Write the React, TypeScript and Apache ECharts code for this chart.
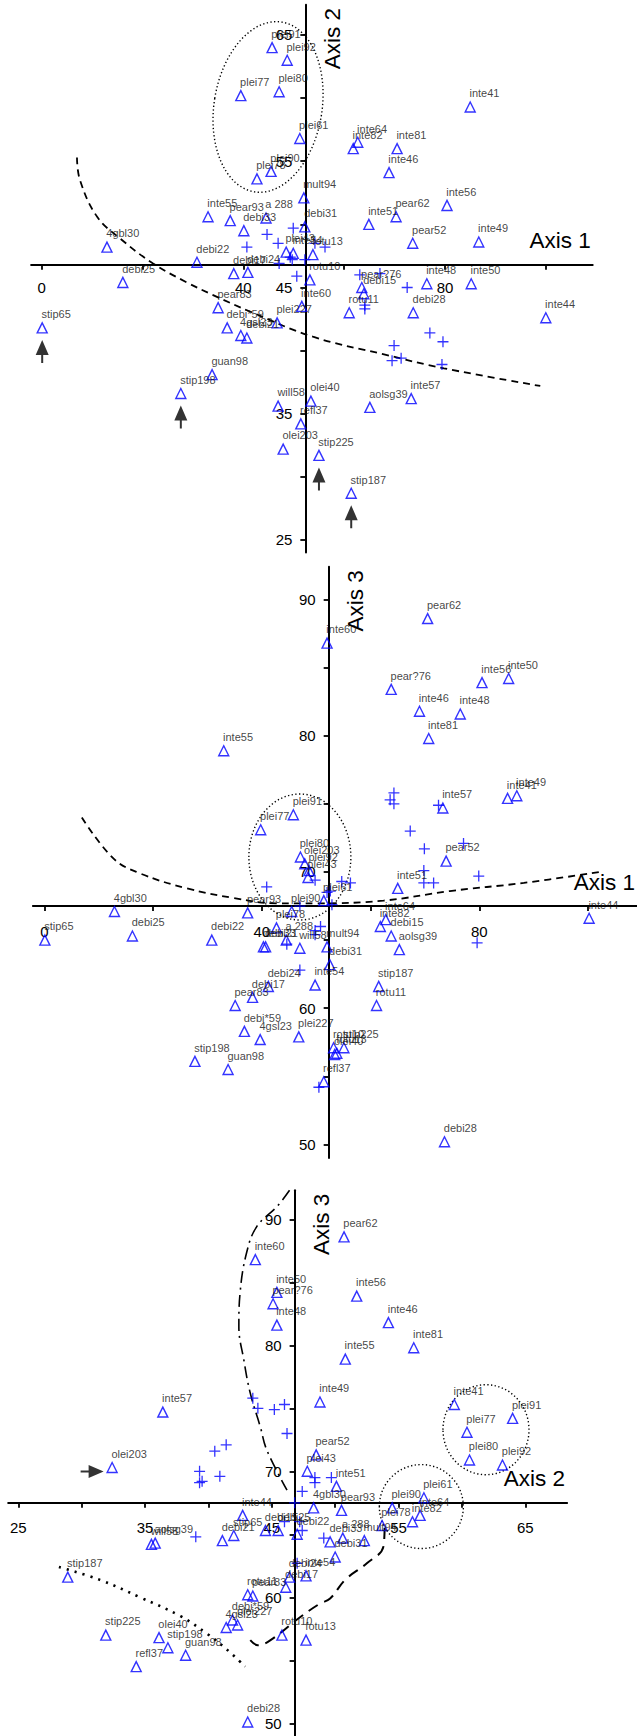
import React, { useEffect, useRef } from "react";
import * as echarts from "echarts";

const FONT = "'Liberation Sans', Arial, Helvetica, sans-serif";
const BLUE = "#0000ff";

type Tri = [string, number, number];
type XY = [number, number];

// ---------- Panel 1 : Axis 1 (x) vs Axis 2 (y) ----------
const P1_TRI: Tri[] = [
  ["plei91", 45.7, 64.0], ["plei92", 48.7, 63.0], ["plei77", 39.5, 60.2], ["plei80", 47.1, 60.5],
  ["plei61", 51.2, 56.8], ["plei90", 45.5, 54.2], ["plei78", 42.7, 53.6], ["mult94", 52.0, 52.1],
  ["inte55", 33.0, 50.6], ["pear93", 37.4, 50.3], ["a 288", 44.5, 50.5], ["debi33", 40.1, 49.5],
  ["debi31", 52.2, 49.8], ["4gbl30", 12.95, 48.2], ["debi22", 30.8, 47.0], ["debi17", 38.1, 46.1],
  ["debi24", 40.9, 46.2], ["debi25", 16.1, 45.4], ["plei43", 48.5, 47.8], ["inte54", 49.9, 47.7],
  ["fotu13", 53.8, 47.6], ["rotu10", 53.2, 45.6], ["inte41", 85.0, 59.3], ["inte64", 62.7, 56.5],
  ["inte82", 61.8, 56.0], ["inte81", 70.5, 56.0], ["inte46", 68.9, 54.1], ["inte56", 80.4, 51.5],
  ["pear62", 70.3, 50.6], ["inte51", 64.9, 50.0], ["pear52", 73.6, 48.5], ["inte49", 86.7, 48.6],
  ["pear?76", 63.5, 45.0], ["debi15", 63.9, 44.5], ["rotu11", 61.0, 43.0], ["inte60", 51.6, 43.5],
  ["stip65", 0.1, 41.8], ["pear83", 35.0, 43.4], ["debi*59", 36.8, 41.8], ["4gsl23", 39.5, 41.2],
  ["debi21", 40.7, 41.0], ["plei227", 46.7, 42.2], ["guan98", 33.8, 38.1], ["stip198", 27.6, 36.6],
  ["will58", 46.9, 35.6], ["olei40", 53.4, 36.0], ["refl37", 51.4, 34.2], ["olei203", 47.9, 32.2],
  ["stip225", 55.0, 31.7], ["stip187", 61.4, 28.7], ["inte57", 73.3, 36.2], ["aolsg39", 65.1, 35.5],
  ["debi28", 73.7, 43.0], ["inte44", 100.0, 42.6], ["inte48", 76.4, 45.3], ["inte50", 85.2, 45.3],
];
const P1_PLUS: XY[] = [
  [49.9, 49.7], [44.7, 49.2], [40.7, 48.2], [46.9, 48.5], [54.2, 48.5], [56.2, 48.2], [50.6, 45.9],
  [47.1, 46.9], [49.7, 47.2], [52.2, 47.2], [49.3, 47.4], [72.5, 45.0], [64.1, 43.6], [64.1, 43.3],
  [69.9, 40.4], [77.0, 41.4], [79.6, 40.7], [69.5, 39.2], [71.3, 39.4], [79.4, 38.9], [63.1, 46.0],
  [67.1, 46.1],
];
const P1_XTICKS = [0, 20, 40, 60, 80, 100];
const P1_XLABELS = [0, 40, 80];
const P1_YTICKS = [25, 30, 35, 40, 45, 50, 55, 60, 65];
const P1_YLABELS = [25, 35, 45, 55, 65];
const P1_DASH: XY[] = [
  [7.0, 55.3], [7.6, 53.5], [11.0, 50.6], [15.5, 48.9], [22.1, 46.9], [28.8, 45.4], [34.0, 44.4],
  [41.3, 43.1], [53.8, 41.1], [67.9, 39.7], [79.8, 38.6], [98.9, 37.2],
];
const P1_ARROWS_UP = ["stip65", "stip198", "stip225", "stip187"];
const P1_ELLIPSE: XY = [44.9, 59.3];

// ---------- Panel 2 : Axis 1 (x) vs Axis 3 (y) ----------
const P2_TRI: Tri[] = [
  ["inte55", 33.0, 78.9], ["plei77", 39.8, 73.1], ["plei91", 45.8, 74.2], ["plei80", 47.1, 71.1],
  ["plei92", 48.7, 70.1], ["plei43", 48.5, 69.6], ["olei203", 47.9, 70.6], ["pear62", 70.5, 88.6],
  ["inte60", 52.0, 86.8], ["pear?76", 63.8, 83.4], ["inte56", 80.5, 83.9], ["inte50", 85.4, 84.2],
  ["inte46", 69.0, 81.8], ["inte48", 76.5, 81.6], ["inte81", 70.7, 79.8], ["inte57", 73.3, 74.7],
  ["inte41", 85.2, 75.4], ["inte49", 86.9, 75.6], ["pear52", 73.9, 70.8], ["inte51", 65.0, 68.8],
  ["plei61", 51.4, 67.9], ["4gbl30", 12.9, 67.1], ["stip65", 0.1, 65.0], ["debi25", 16.2, 65.3],
  ["debi22", 30.8, 65.0], ["pear93", 37.4, 67.0], ["plei90", 45.5, 67.1], ["plei78", 42.7, 65.9],
  ["debi33", 40.3, 64.5], ["debi21", 40.7, 64.5], ["a 288", 44.5, 65.0], ["will58", 47.0, 64.4],
  ["debi24", 41.2, 61.6], ["debi17", 38.3, 60.8], ["pear83", 35.1, 60.2], ["inte54", 49.8, 61.7],
  ["debi*59", 36.8, 58.3], ["4gsl23", 39.7, 57.7], ["plei227", 46.8, 57.9], ["stip198", 27.7, 56.1],
  ["guan98", 33.8, 55.5], ["inte64", 62.8, 66.5], ["inte82", 61.8, 66.0], ["debi15", 63.8, 65.3],
  ["aolsg39", 65.3, 64.3], ["mult94", 52.0, 64.5], ["debi31", 52.5, 63.2], ["stip187", 61.5, 61.6],
  ["rotu11", 61.1, 60.2], ["inte44", 100.2, 66.6], ["rotu10", 53.2, 57.1], ["fotu13", 53.8, 56.7],
  ["stip225", 55.1, 57.1], ["olei40", 53.4, 56.6], ["refl37", 51.4, 54.6], ["debi28", 73.6, 50.2],
];
const P2_PLUS: XY[] = [
  [40.9, 68.9], [49.8, 69.4], [44.6, 64.7], [49.8, 65.7], [49.8, 65.4], [47.0, 62.8], [50.5, 54.2],
  [47.0, 67.5], [64.3, 75.8], [63.6, 75.3], [64.3, 75.0], [72.5, 74.9], [67.3, 73.0], [69.9, 71.7],
  [77.1, 72.1], [69.8, 70.1], [69.8, 69.2], [71.6, 69.2], [79.9, 69.7], [54.7, 69.3], [56.3, 69.2],
  [52.6, 68.6], [52.0, 68.5], [52.9, 67.6], [79.6, 64.8], [50.8, 66.0],
];
const P2_XTICKS = [0, 20, 40, 60, 80, 100];
const P2_XLABELS = [0, 40, 80];
const P2_YTICKS = [50, 55, 60, 65, 70, 75, 80, 85, 90];
const P2_YLABELS = [50, 60, 70, 80, 90];
const P2_DASH: XY[] = [
  [6.9, 74.0], [12.7, 71.0], [17.6, 69.9], [26.2, 68.8], [34.7, 68.1], [42.7, 67.7], [50.2, 67.7],
  [62.4, 67.9], [74.6, 68.6], [88.2, 69.2], [102.2, 70.0],
];
const P2_ELLIPSE: XY = [47.0, 71.1];

// ---------- Panel 3 : Axis 2 (x) vs Axis 3 (y) ----------
const P3_TRI: Tri[] = [
  ["inte60", 43.7, 86.8], ["inte50", 45.4, 84.2], ["pear?76", 45.1, 83.3], ["inte48", 45.4, 81.6],
  ["inte57", 36.4, 74.7], ["inte49", 48.8, 75.5], ["pear62", 50.7, 88.6], ["inte56", 51.7, 83.9],
  ["inte46", 54.2, 81.8], ["inte81", 56.2, 79.8], ["inte55", 50.8, 78.9], ["inte41", 59.4, 75.3],
  ["plei77", 60.4, 73.1], ["plei91", 64.0, 74.2], ["plei80", 60.6, 70.9], ["plei92", 63.2, 70.5],
  ["olei203", 32.4, 70.3], ["plei43", 47.8, 70.0], ["pear52", 48.5, 71.3], ["inte51", 50.1, 68.8],
  ["4gbl30", 48.3, 67.1], ["pear93", 50.5, 66.9], ["plei90", 54.5, 67.1], ["plei61", 57.0, 67.9],
  ["inte64", 56.7, 66.5], ["inte82", 56.1, 66.0], ["plei78", 53.7, 65.7], ["mult94", 52.3, 64.5],
  ["a 288", 50.6, 64.7], ["debi33", 49.6, 64.4], ["debi31", 50.0, 63.2], ["inte54", 47.7, 61.7],
  ["debi22", 47.0, 65.0], ["inte44", 42.7, 66.5], ["stip65", 42.0, 64.9], ["debi21", 41.1, 64.5],
  ["debi25", 45.5, 65.3], ["debi15", 44.5, 65.3], ["will58", 35.5, 64.2], ["aolsg39", 35.8, 64.3],
  ["stip187", 28.9, 61.6], ["rotu11", 43.1, 60.2], ["pear83", 43.5, 60.1], ["debi24", 46.4, 61.6],
  ["debi17", 46.1, 60.8], ["debi*59", 41.9, 58.2], ["plei227", 42.3, 57.8], ["4gsl23", 41.4, 57.6],
  ["rotu10", 45.8, 57.0], ["fotu13", 47.7, 56.6], ["stip225", 31.9, 57.0], ["olei40", 36.1, 56.8],
  ["stip198", 36.8, 56.0], ["guan98", 38.2, 55.4], ["refl37", 34.3, 54.5], ["debi28", 43.1, 50.1],
];
const P3_PLUS: XY[] = [
  [43.5, 75.8], [43.9, 75.0], [45.2, 74.9], [46.0, 75.3], [46.2, 73.0], [41.4, 72.1], [40.5, 71.6],
  [39.3, 70.0], [39.3, 69.1], [39.5, 69.2], [40.9, 69.6], [39.0, 64.8], [47.4, 68.4], [46.8, 67.5],
  [48.4, 69.5], [48.4, 69.1], [46.0, 66.0], [47.2, 66.0], [47.4, 65.3], [47.0, 62.7], [49.1, 64.7],
  [49.7, 69.5],
];
const P3_XTICKS = [25, 30, 35, 40, 45, 50, 55, 60, 65];
const P3_XLABELS = [25, 35, 45, 55, 65];
const P3_YTICKS = [50, 55, 60, 65, 70, 75, 80, 85, 90];
const P3_YLABELS = [50, 60, 70, 80, 90];
const P3_LONGDASH: XY[] = [
  [53.9, 65.5], [53.8, 64.0], [52.5, 62.7], [50.8, 61.4], [49.6, 59.9], [48.8, 59.5], [47.2, 58.4],
  [44.9, 56.6], [43.9, 56.2], [43.3, 56.6],
];
const P3_DASHDOT: XY[] = [
  [46.4, 92.3], [45.4, 91.0], [43.8, 89.4], [43.0, 87.3], [42.5, 84.2], [42.4, 81.5], [42.8, 78.8],
  [43.3, 76.2], [44.1, 73.5], [44.6, 71.7], [46.2, 68.5],
];
const P3_DOTTED: XY[] = [
  [28.2, 62.4], [31.4, 61.4], [34.6, 60.0], [37.8, 58.5], [39.9, 57.1], [41.4, 55.9], [42.9, 54.5],
];
const P3_ARROWS_RIGHT = ["olei203"];
const P3_ELLIPSE_A: XY = [61.9, 73.3];
const P3_ELLIPSE_B: XY = [56.8, 67.2];

// ---------- layout ----------
const PANELS = [
  {
    tri: P1_TRI, plus: P1_PLUS, xTicks: P1_XTICKS, xLabels: P1_XLABELS, yTicks: P1_YTICKS, yLabels: P1_YLABELS,
    xMin: -2.1, xMax: 109.3, yMin: 24.0, yMax: 67.4, xCross: 52.3, yCross: 46.8,
    rect: { left: 31.1, top: 4.7, width: 561.6, height: 547.9 }, xMargin: 15,
    hName: "Axis 1", vName: "Axis 2",
  },
  {
    tri: P2_TRI, plus: P2_PLUS, xTicks: P2_XTICKS, xLabels: P2_XLABELS, yTicks: P2_YTICKS, yLabels: P2_YLABELS,
    xMin: -2.1, xMax: 109.3, yMin: 49.0, yMax: 92.4, xCross: 52.3, yCross: 67.5,
    rect: { left: 32.9, top: 566.8, width: 605.7, height: 591.3 }, xMargin: 18,
    hName: "Axis 1", vName: "Axis 3",
  },
  {
    tri: P3_TRI, plus: P3_PLUS, xTicks: P3_XTICKS, xLabels: P3_XLABELS, yTicks: P3_YTICKS, yLabels: P3_YLABELS,
    xMin: 24.2, xMax: 68.3, yMin: 49.0, yMax: 92.3, xCross: 46.8, yCross: 67.5,
    rect: { left: 8.2, top: 1190.3, width: 558.9, height: 545.6 }, xMargin: 17,
    hName: "Axis 2", vName: "Axis 3",
  },
];

const PLUS_SYMBOL = "path://M5,0L5,10M0,5L10,5";
const ARROW_SYMBOL = "path://M6.5,0L13,15L7.5,15L7.5,23L5.5,23L5.5,15L0,15Z";

export default function App() {
  const ref = useRef<HTMLDivElement>(null);
  useEffect(() => {
    const el = ref.current;
    if (!el) return;
    const chart = echarts.init(el, null, { renderer: "svg" });
    const grids: any[] = [];
    const xAxes: any[] = [];
    const yAxes: any[] = [];
    const series: any[] = [];
    const crosses: { cx: number; cy: number }[] = [];
    const gridCommon = { containLabel: false, outerBoundsMode: "none", show: false };
    const hidden = (gi: number) => ({ type: "value", gridIndex: gi, show: false, min: 0, max: 1 });
    const axisLine = { show: true, onZero: false, lineStyle: { color: "#000", width: 2 } };

    PANELS.forEach((p, i) => {
      const { left, top, width, height } = p.rect;
      const cx = left + ((p.xCross - p.xMin) / (p.xMax - p.xMin)) * width;
      const cy = top + ((p.yMax - p.yCross) / (p.yMax - p.yMin)) * height;
      crosses.push({ cx, cy });
      const b = i * 3;
      grids.push(
        { ...gridCommon, left, top, width, height },
        { ...gridCommon, left, top, width, height: cy - top },
        { ...gridCommon, left: cx, top, width: left + width - cx, height }
      );
      xAxes.push(
        { type: "value", gridIndex: b, show: false, min: p.xMin, max: p.xMax },
        {
          type: "value", gridIndex: b + 1, min: p.xMin, max: p.xMax, position: "bottom",
          axisLine,
          axisTick: { show: true, inside: false, length: 5, customValues: p.xTicks, lineStyle: { color: "#000", width: 1.8 } },
          axisLabel: { show: true, customValues: p.xLabels, margin: p.xMargin, fontSize: 15, color: "#000", fontFamily: FONT },
          splitLine: { show: false },
        },
        hidden(b + 2)
      );
      yAxes.push(
        { type: "value", gridIndex: b, show: false, min: p.yMin, max: p.yMax },
        hidden(b + 1),
        {
          type: "value", gridIndex: b + 2, min: p.yMin, max: p.yMax, position: "left",
          axisLine,
          axisTick: { show: true, inside: false, length: 5, customValues: p.yTicks, lineStyle: { color: "#000", width: 1.8 } },
          axisLabel: { show: true, customValues: p.yLabels, margin: 13, fontSize: 15, color: "#000", fontFamily: FONT },
          splitLine: { show: false },
        }
      );
      series.push({
        type: "scatter", xAxisIndex: b, yAxisIndex: b, silent: true,
        data: p.plus.map((v) => ({ value: v })),
        symbol: PLUS_SYMBOL, symbolSize: 11,
        itemStyle: { color: BLUE, borderColor: BLUE, borderWidth: 1.3 },
        z: 3,
      });
      series.push({
        type: "scatter", xAxisIndex: b, yAxisIndex: b, silent: true,
        data: p.tri.map(([n, x, y]) => ({ name: n, value: [x, y] })),
        symbol: "triangle", symbolSize: 10,
        itemStyle: { color: "rgba(0,0,0,0)", borderColor: BLUE, borderWidth: 1.4 },
        label: {
          show: true, formatter: (q: any) => q.name, position: [5, -8], align: "left", verticalAlign: "middle",
          fontSize: 11, color: "#111", fontFamily: FONT,
        },
        z: 4,
      });
    });

    const find = (tri: Tri[], n: string) => {
      const t = tri.find((r) => r[0] === n)!;
      return [t[1], t[2]];
    };
    series.push({
      type: "scatter", xAxisIndex: 0, yAxisIndex: 0, silent: true,
      data: P1_ARROWS_UP.map((n) => ({ value: find(P1_TRI, n) })),
      symbol: ARROW_SYMBOL, symbolSize: [13, 23], symbolOffset: [0, 23.5], symbolKeepAspect: false,
      itemStyle: { color: "#000" }, z: 5,
    });
    series.push({
      type: "scatter", xAxisIndex: 6, yAxisIndex: 6, silent: true,
      data: P3_ARROWS_RIGHT.map((n) => ({ value: find(P3_TRI, n) })),
      symbol: ARROW_SYMBOL, symbolSize: [13, 23], symbolRotate: -90, symbolOffset: [-20, 4],
      itemStyle: { color: "#000" }, z: 5,
    });

    const curve = (ai: number, pts: XY[], type: any, width: number, cap = "butt") => ({
      type: "line", xAxisIndex: ai, yAxisIndex: ai, silent: true, data: pts, smooth: 0.4,
      symbol: "none", lineStyle: { color: "#000", width, type, cap }, z: 2,
    });
    series.push(curve(0, P1_DASH, [7, 5], 1.8));
    series.push(curve(3, P2_DASH, [7, 5], 1.8));
    series.push(curve(6, P3_LONGDASH, [11, 7], 2));
    series.push(curve(6, P3_DASHDOT, [12, 5, 2, 5], 1.6));
    series.push(curve(6, P3_DOTTED, [2.2, 6], 2.6));

    chart.setOption({
      animation: false,
      backgroundColor: "#fff",
      grid: grids,
      xAxis: xAxes,
      yAxis: yAxes,
      series,
    });

    const px = (gi: number, v: XY) => chart.convertToPixel({ gridIndex: gi } as any, v) as unknown as number[];
    const ellipse = (gi: number, c: XY, rx: number, ry: number, rot: number, dash: number[], lw: number) => {
      const [x, y] = px(gi, c);
      return {
        type: "ellipse", x, y, rotation: rot, silent: true,
        shape: { cx: 0, cy: 0, rx, ry },
        style: { fill: "none", stroke: "#000", lineWidth: lw, lineDash: dash },
      };
    };
    const graphics: any[] = [
      ellipse(0, P1_ELLIPSE, 54, 86, -0.16, [1.3, 2.4], 1.4),
      ellipse(3, P2_ELLIPSE, 51, 63, 0, [1.3, 2.4], 1.4),
      ellipse(6, P3_ELLIPSE_A, 43, 45, 0, [1.3, 2.4], 1.4),
      ellipse(6, P3_ELLIPSE_B, 42, 42, 0, [1.3, 2.4], 1.4),
    ];
    PANELS.forEach((p, i) => {
      const { cx, cy } = crosses[i];
      const { left, top, width } = p.rect;
      graphics.push({
        type: "text", x: Math.min(left + width, 637) - 2, y: cy - 24, silent: true,
        style: { text: p.hName, fontSize: 22.5, fontFamily: FONT, fill: "#000", align: "right", verticalAlign: "middle" },
      });
      graphics.push({
        type: "text", x: cx + 27, y: top + 34, rotation: Math.PI / 2, silent: true,
        style: { text: p.vName, fontSize: 22.5, fontFamily: FONT, fill: "#000", align: "center", verticalAlign: "middle" },
      });
    });
    chart.setOption({ graphic: graphics });

    return () => chart.dispose();
  }, []);
  return (
    <div
      ref={ref}
      style={{ position: "absolute", left: 0, top: 0, width: 637, height: 1736, background: "#fff" }}
    />
  );
}
